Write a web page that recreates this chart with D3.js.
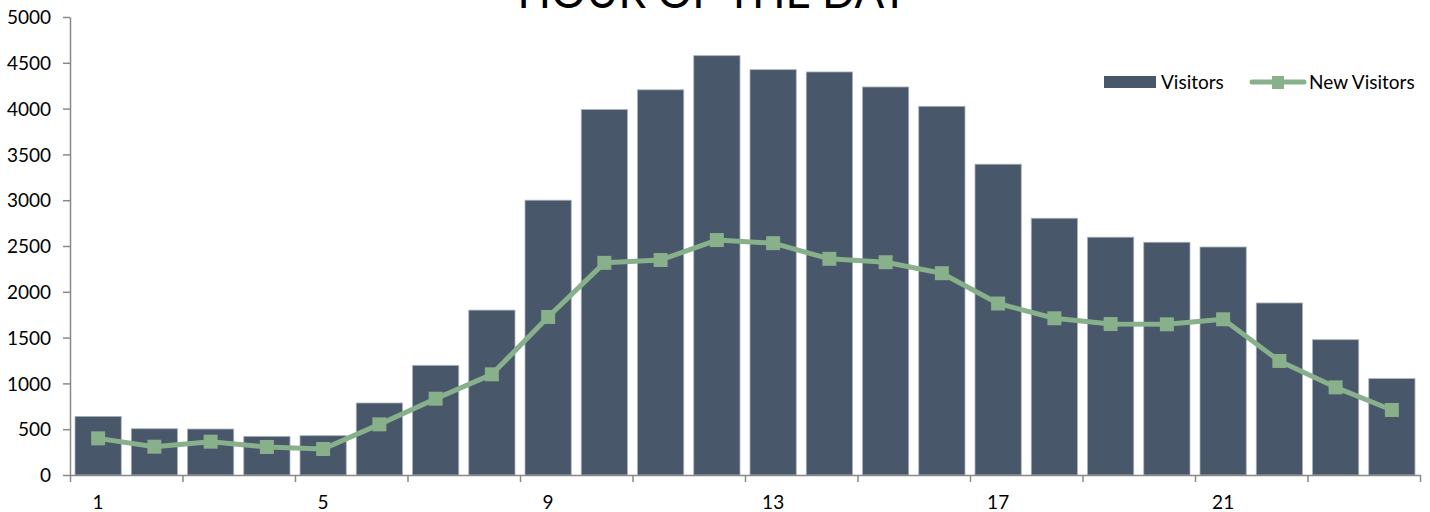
<!DOCTYPE html>
<html>
<head>
<meta charset="utf-8">
<script src="https://cdn.jsdelivr.net/npm/d3@7"></script>
<style>
  html, body { margin: 0; padding: 0; background: #ffffff; }
  svg { display: block; }
  .axis text { font-family: Lato, "Liberation Sans", sans-serif; font-size: 19px; fill: #000; }
  .axis path, .axis line { stroke: #898989; stroke-width: 1.5; }
</style>
</head>
<body>
<svg id="chart" width="1430" height="512"></svg>
<script>
// Hourly traffic: total visitors (bars) and new visitors (line)
const hours = [1, 2, 3, 4, 5, 6, 7, 8, 9, 10, 11, 12, 13, 14, 15, 16, 17, 18, 19, 20, 21, 22, 23, 24];
const visitors = [640, 505, 502, 422, 429, 786, 1197, 1800, 3000, 3990, 4205, 4578, 4425, 4400, 4236, 4025, 3393, 2803, 2596, 2541, 2489, 1878, 1477, 1052];
const newVisitors = [400, 309, 364, 306, 284, 553, 833, 1099, 1725, 2316, 2347, 2565, 2531, 2360, 2323, 2203, 1872, 1711, 1648, 1645, 1700, 1245, 957, 710];
const yTicks = [0, 500, 1000, 1500, 2000, 2500, 3000, 3500, 4000, 4500, 5000];
const seriesNames = ["Visitors", "New Visitors"];
const chartTitle = "HOUR OF THE DAY";

const barColor = "#485769";
const barEdge = "#a9b2bd";
const lineColor = "#87b08b";

const svg = d3.select("#chart");
const plotLeft = 70, plotRight = 1420, plotTop = 17, plotBottom = 475;

const x = d3.scaleBand().domain(hours).range([plotLeft, plotRight])
  .paddingInner(0.178).paddingOuter(0.089);
const y = d3.scaleLinear().domain([0, 5000]).range([plotBottom, plotTop]);
// continuous index scale for the category-boundary tick marks
const xi = d3.scaleLinear().domain([0, hours.length]).range([plotLeft, plotRight]);

// bars
svg.append("g").selectAll("rect").data(hours).join("rect")
  .attr("x", d => x(d))
  .attr("y", (d, i) => y(visitors[i]))
  .attr("width", x.bandwidth())
  .attr("height", (d, i) => y(0) - y(visitors[i]))
  .attr("fill", barColor)
  .attr("stroke", barEdge)
  .attr("stroke-width", 0.8);

// y axis
svg.append("g").attr("class", "axis")
  .attr("transform", `translate(${plotLeft},0)`)
  .call(d3.axisLeft(y).tickValues(yTicks).tickFormat(d3.format("d"))
    .tickSize(7).tickPadding(12).tickSizeOuter(0))
  .call(g => g.selectAll("text").attr("dy", "0.35em"));

// x axis: tick marks every second category boundary
svg.append("g").attr("class", "axis")
  .attr("transform", `translate(0,${plotBottom})`)
  .call(d3.axisBottom(xi).tickValues(d3.range(0, hours.length + 1, 2)).tickSize(7).tickFormat("").tickSizeOuter(0));

// x axis labels every fourth hour, centred on the category
const labelled = hours.filter(h => (h - 1) % 4 === 0);
svg.append("g").attr("class", "axis")
  .attr("transform", `translate(0,${plotBottom})`)
  .call(d3.axisBottom(x).tickValues(labelled).tickSize(0).tickPadding(21))
  .call(g => g.select(".domain").remove());

// new visitors line
const cx = (d) => x(d) + x.bandwidth() / 2;
const line = d3.line().x((d, i) => cx(hours[i])).y(d => y(d));
svg.append("path").datum(newVisitors)
  .attr("d", line)
  .attr("fill", "none")
  .attr("stroke", lineColor)
  .attr("stroke-width", 5)
  .attr("stroke-linejoin", "round");

const ms = 14;
svg.append("g").selectAll("rect").data(newVisitors).join("rect")
  .attr("x", (d, i) => cx(hours[i]) - ms / 2)
  .attr("y", d => y(d) - ms / 2)
  .attr("width", ms).attr("height", ms)
  .attr("fill", lineColor);

// title
svg.append("text")
  .attr("x", 713).attr("y", 8)
  .attr("text-anchor", "middle")
  .attr("font-family", "Lato, 'Liberation Sans', sans-serif")
  .attr("font-size", 46)
  .attr("textLength", 391)
  .attr("lengthAdjust", "spacingAndGlyphs")
  .attr("fill", "#000")
  .text(chartTitle);

// legend
const lg = svg.append("g").attr("font-family", "Lato, 'Liberation Sans', sans-serif").attr("font-size", 19);
lg.append("rect").attr("x", 1104).attr("y", 76).attr("width", 52).attr("height", 12).attr("fill", barColor);
lg.append("text").attr("x", 1161).attr("y", 82).attr("dy", "0.35em").text(seriesNames[0]);
lg.append("line").attr("x1", 1252).attr("x2", 1304).attr("y1", 82).attr("y2", 82)
  .attr("stroke", lineColor).attr("stroke-width", 5).attr("stroke-linecap", "round");
lg.append("rect").attr("x", 1272).attr("y", 76).attr("width", 12).attr("height", 13).attr("fill", lineColor);
lg.append("text").attr("x", 1309).attr("y", 82).attr("dy", "0.35em").text(seriesNames[1]);
</script>
</body>
</html>
